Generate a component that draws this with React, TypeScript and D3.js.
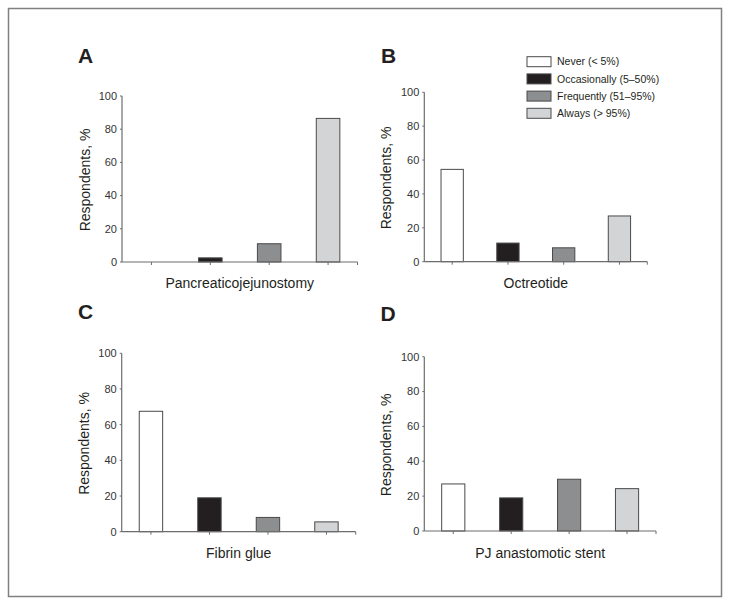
import React from "react";
import * as d3 from "d3";

const categories = ["Never (< 5%)", "Occasionally (5–50%)", "Frequently (51–95%)", "Always (> 95%)"];
const colors = ["#ffffff", "#231f20", "#8d8e90", "#d3d4d6"];
const panelLetters = ["A", "B", "C", "D"];
const panelTitles = ["Pancreaticojejunostomy", "Octreotide", "Fibrin glue", "PJ anastomotic stent"];
const valuesA = [0, 2.5, 11, 86.5];
const valuesB = [54.5, 11, 8.2, 27];
const valuesC = [67.5, 19, 8, 5.5];
const valuesD = [27, 19, 29.7, 24.3];
const yTicks = [0, 20, 40, 60, 80, 100];
const yTitle = "Respondents, %";

// layout (positions only)
const layouts = [
  { x0: 122, x1: 357.5, y0: 262, y1: 96, letterX: 78, letterY: 63, titleY: 288, yTitleX: 90, legend: false },
  { x0: 424.3, x1: 647.3, y0: 261.7, y1: 92.3, letterX: 381, letterY: 63, titleY: 288, yTitleX: 391, legend: true },
  { x0: 121.7, x1: 355.7, y0: 531.7, y1: 353.3, letterX: 78, letterY: 319, titleY: 558, yTitleX: 89, legend: false },
  { x0: 424.3, x1: 656, y0: 531, y1: 356.7, letterX: 380.5, letterY: 320.5, titleY: 558, yTitleX: 391, legend: false },
];
const allValues = [valuesA, valuesB, valuesC, valuesD];

const FONT = "'Liberation Sans', Arial, Helvetica, sans-serif";
const AXIS = "#6d6d6d";
const STROKE = "#4a4a4a";

function Panel({ idx }: { idx: number }) {
  const L = layouts[idx];
  const vals = allValues[idx];
  const x = d3.scaleBand<string>().domain(categories).range([L.x0, L.x1]).paddingInner(0.6).paddingOuter(0.3);
  const y = d3.scaleLinear().domain([0, 100]).range([L.y0, L.y1]);
  const yMid = (L.y0 + L.y1) / 2 + 1;
  return (
    <g>
      <text x={L.letterX} y={L.letterY} fontFamily={FONT} fontWeight="bold" fontSize={21} fill="#231f20">
        {panelLetters[idx]}
      </text>
      {/* bars */}
      {vals.map((v, i) => (
        <rect
          key={i}
          x={x(categories[i])!}
          y={y(v)}
          width={x.bandwidth()}
          height={Math.max(0, y(0) - y(v))}
          fill={colors[i]}
          stroke={v > 0 ? STROKE : "none"}
          strokeWidth={1}
        />
      ))}
      {/* y axis */}
      <line x1={L.x0} x2={L.x0} y1={y(0)} y2={y(100)} stroke={AXIS} strokeWidth={1.2} />
      {yTicks.map((t) => (
        <g key={t}>
          <line x1={L.x0 - 2} x2={L.x0} y1={y(t)} y2={y(t)} stroke={AXIS} strokeWidth={1} />
          <text x={L.x0 - 5} y={y(t)} dy="0.35em" textAnchor="end" fontFamily={FONT} fontSize={11} fill="#333">
            {t}
          </text>
        </g>
      ))}
      {/* x axis */}
      <line x1={L.x0} x2={L.x1} y1={y(0)} y2={y(0)} stroke={AXIS} strokeWidth={1.2} />
      {categories.map((c) => (
        <line
          key={c}
          x1={x(c)! + x.bandwidth() / 2}
          x2={x(c)! + x.bandwidth() / 2}
          y1={y(0)}
          y2={y(0) + 3}
          stroke={AXIS}
          strokeWidth={1}
        />
      ))}
      <line x1={L.x1} x2={L.x1} y1={y(0)} y2={y(0) + 3} stroke={AXIS} strokeWidth={1} />
      <text
        x={(L.x0 + L.x1) / 2}
        y={L.titleY}
        textAnchor="middle"
        fontFamily={FONT}
        fontSize={14}
        fill="#231f20"
      >
        {panelTitles[idx]}
      </text>
      <text
        transform={`translate(${L.yTitleX},${yMid}) rotate(-90)`}
        textAnchor="middle"
        fontFamily={FONT}
        fontSize={14}
        fill="#231f20"
      >
        {yTitle}
      </text>
      {L.legend &&
        categories.map((c, i) => (
          <g key={c} transform={`translate(527,${56.7 + i * 17.2})`}>
            <rect x={0} y={0} width={24} height={10} fill={colors[i]} stroke={STROKE} strokeWidth={1} />
            <text x={30} y={5} dy="0.35em" fontFamily={FONT} fontSize={10.5} fill="#231f20">
              {c}
            </text>
          </g>
        ))}
    </g>
  );
}

export default function App() {
  return (
    <svg width={731} height={606} style={{ position: "absolute", left: 0, top: 0 }}>
      <rect x={0} y={0} width={731} height={606} fill="#ffffff" />
      <rect x={8.5} y={8.5} width={713} height={588} fill="none" stroke="#808080" strokeWidth={1.5} />
      {[0, 1, 2, 3].map((i) => (
        <Panel key={i} idx={i} />
      ))}
    </svg>
  );
}
